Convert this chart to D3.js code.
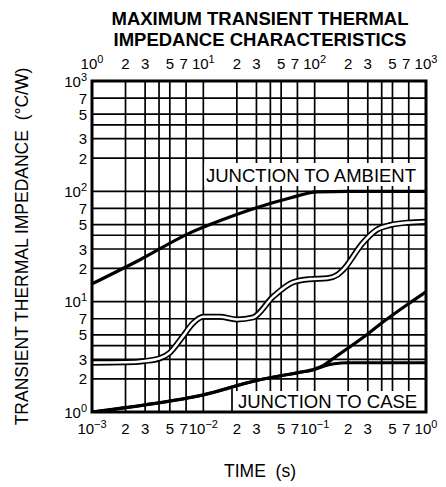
<!DOCTYPE html>
<html lang="en">
  <head>
    <meta charset="UTF-8" />
    <script src="https://cdn.jsdelivr.net/npm/d3@7"></script>
    <style>
      body { margin: 0; background: #fff; }
      text { font-family: "Liberation Sans", Arial, Helvetica, sans-serif; fill: #000; }
    </style>
  </head>
  <body>
    <div id="fig"></div>
    <script>
      const width = 446, height = 487;

      // axis decades / grid steps
      const bottomDecades = [-3, -2, -1, 0];
      const topDecades = [0, 1, 2, 3];
      const leftDecades = [0, 1, 2, 3];
      const gridSteps = [1, 2, 3, 4, 5, 7];
      const labelSteps = [2, 3, 5, 7];

      // junction to ambient, short times (bottom axis, s)
      const ambShortTime = [0.001, 0.003, 0.01, 0.03, 0.07, 0.1, 0.12, 0.15, 0.2, 0.3, 0.4, 0.7, 1.0];
      const ambShortZ = [1.0, 1.16, 1.43, 1.93, 2.27, 2.45, 2.65, 3.1, 3.8, 5.1, 6.4, 9.6, 12.3];

      // junction to ambient, long times (top axis, s)
      const ambLongTime = [1, 2.7, 7.6, 14, 30, 60, 105, 200, 1000];
      const ambLongZ = [14.5, 24, 42, 54, 71, 87, 99, 100, 100];

      // junction to case (bottom axis)
      const caseTime = [0.001, 0.003, 0.01, 0.03, 0.07, 0.1, 0.12, 0.15, 0.2, 1.0];
      const caseZ = [1.0, 1.16, 1.43, 1.93, 2.27, 2.42, 2.6, 2.74, 2.8, 2.8];

      // white double-line curve (bottom axis)
      const dualTime = [0.001, 0.002, 0.003, 0.004, 0.005, 0.0065, 0.0081, 0.01, 0.014, 0.02, 0.028, 0.042, 0.064, 0.09, 0.13, 0.16, 0.18, 0.27, 0.36, 0.48, 0.68, 1.0];
      const dualZ = [2.8, 2.82, 2.9, 3.05, 3.45, 4.8, 6.4, 7.3, 7.3, 6.9, 7.2, 11, 15, 16, 16.3, 17.5, 19.4, 34, 44.7, 49.5, 52, 53];

      const margins = { top: 81, bottom: 75, left: 92, right: 20 };
      const pLeft = margins.left, pRight = width - margins.right;
      const pTop = margins.top, pBottom = height - margins.bottom;

      const xBottom = d3.scaleLog().domain([1e-3, 1]).range([pLeft, pRight]);
      const xTop = d3.scaleLog().domain([1, 1000]).range([pLeft, pRight]);
      const y = d3.scaleLog().domain([1, 1000]).range([pBottom, pTop]);

      const svg = d3.select("#fig").append("svg")
        .attr("width", width).attr("height", height);

      // grid
      const gridVals = (decades) => {
        const out = [];
        decades.slice(0, -1).forEach(d => gridSteps.forEach(s => out.push(s * Math.pow(10, d))));
        out.push(Math.pow(10, decades[decades.length - 1]));
        return out;
      };
      const grid = svg.append("g").attr("stroke", "#000").attr("stroke-width", 1.7);
      grid.selectAll("line.v").data(gridVals(bottomDecades)).join("line")
        .attr("class", "v")
        .attr("x1", d => xBottom(d)).attr("x2", d => xBottom(d))
        .attr("y1", pTop).attr("y2", pBottom);
      grid.selectAll("line.h").data(gridVals(leftDecades)).join("line")
        .attr("class", "h")
        .attr("x1", pLeft).attr("x2", pRight)
        .attr("y1", d => y(d)).attr("y2", d => y(d));

      // label boxes (cover the grid)
      svg.append("rect").attr("x", xBottom(0.01) + 1).attr("y", 163)
        .attr("width", pRight - xBottom(0.01) - 1).attr("height", 23).attr("fill", "#fff");
      svg.append("rect").attr("x", 232).attr("y", 391)
        .attr("width", pRight - 232).attr("height", pBottom - 391).attr("fill", "#fff");
      svg.append("line").attr("x1", 232).attr("x2", 232).attr("y1", 389).attr("y2", pBottom)
        .attr("stroke", "#000").attr("stroke-width", 1.7);

      svg.append("text").attr("x", 206).attr("y", 182).attr("font-size", 18.5)
        .text("JUNCTION TO AMBIENT");
      svg.append("text").attr("x", 238).attr("y", 408).attr("font-size", 18.5)
        .text("JUNCTION TO CASE");

      // curves
      svg.append("clipPath").attr("id", "clip").append("rect")
        .attr("x", pLeft).attr("y", pTop).attr("width", pRight - pLeft).attr("height", pBottom - pTop);
      const curves = svg.append("g").attr("clip-path", "url(#clip)").attr("fill", "none");

      const lineOf = (xs) => d3.line()
        .x(d => xs(d[0])).y(d => y(d[1]))
        .curve(d3.curveMonotoneX);

      const dualPts = d3.zip(dualTime, dualZ);
      curves.append("path").datum(dualPts).attr("d", lineOf(xBottom))
        .attr("stroke", "#000").attr("stroke-width", 6);
      curves.append("path").datum(dualPts).attr("d", lineOf(xBottom))
        .attr("stroke", "#fff").attr("stroke-width", 2.6);

      curves.append("path").datum(d3.zip(caseTime, caseZ)).attr("d", lineOf(xBottom))
        .attr("stroke", "#000").attr("stroke-width", 3);
      curves.append("path").datum(d3.zip(ambShortTime, ambShortZ)).attr("d", lineOf(xBottom))
        .attr("stroke", "#000").attr("stroke-width", 3.2);
      curves.append("path").datum(d3.zip(ambLongTime, ambLongZ)).attr("d", lineOf(xTop))
        .attr("stroke", "#000").attr("stroke-width", 3.2);

      // frame
      svg.append("rect").attr("x", pLeft).attr("y", pTop)
        .attr("width", pRight - pLeft).attr("height", pBottom - pTop)
        .attr("fill", "none").attr("stroke", "#000").attr("stroke-width", 3);

      // tick labels
      const sup = (sel, exp) => {
        sel.append("tspan").text("10");
        sel.append("tspan").attr("font-size", 11).attr("dy", -6)
          .text(exp < 0 ? "\u2212" + (-exp) : exp);
      };
      const axisLabels = (decades, place) => {
        decades.forEach((d, i) => {
          sup(place(Math.pow(10, d), 0), d);
          if (i < decades.length - 1) {
            labelSteps.forEach(s => place(s * Math.pow(10, d), s === 7 ? -2.5 : 0).text(s));
          }
        });
      };
      const tickG = svg.append("g").attr("font-size", 15);
      axisLabels(bottomDecades, (v, off) => tickG.append("text")
        .attr("x", xBottom(v) + off).attr("y", 434).attr("text-anchor", "middle"));
      axisLabels(topDecades, (v, off) => tickG.append("text")
        .attr("x", xTop(v) + off).attr("y", 69).attr("text-anchor", "middle"));
      axisLabels(leftDecades, v => tickG.append("text")
        .attr("x", 87).attr("y", y(v) + 5.5).attr("text-anchor", "end"));

      // titles
      const title = svg.append("text").attr("text-anchor", "middle")
        .attr("font-size", 18.5).attr("font-weight", "bold");
      title.append("tspan").attr("x", 260).attr("y", 25).text("MAXIMUM TRANSIENT THERMAL");
      title.append("tspan").attr("x", 260).attr("y", 46).text("IMPEDANCE CHARACTERISTICS");

      svg.append("text").attr("x", 260).attr("y", 477).attr("text-anchor", "middle")
        .attr("font-size", 17.5).style("white-space", "pre")
        .text("TIME  (s)");

      svg.append("text").attr("transform", `translate(28,${(pTop + pBottom) / 2}) rotate(-90)`)
        .attr("text-anchor", "middle").attr("font-size", 17.5).style("white-space", "pre")
        .text("TRANSIENT THERMAL IMPEDANCE  (°C/W)");
    </script>
  </body>
</html>
